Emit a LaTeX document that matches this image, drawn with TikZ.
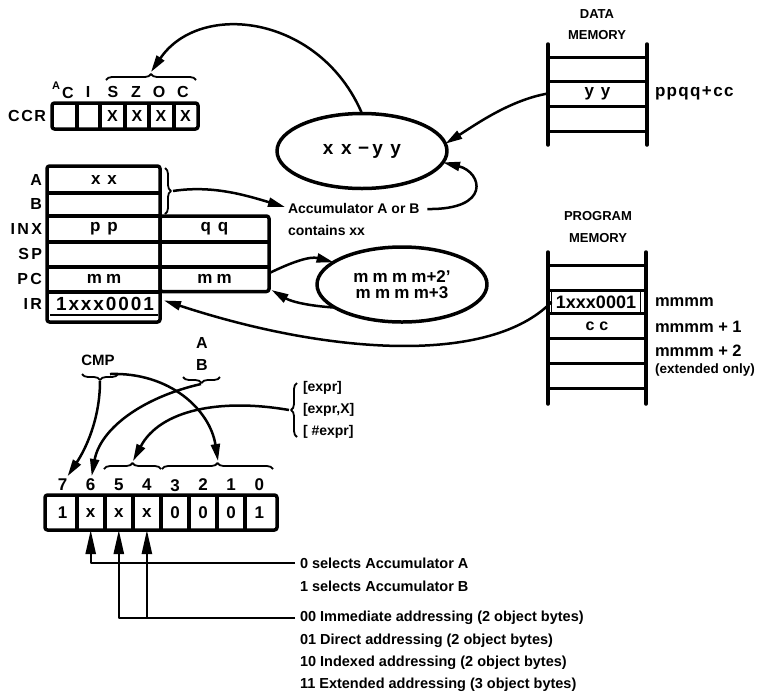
\documentclass[tikz,border=0pt]{standalone}
\usepackage{fontspec}
\setmainfont{Liberation Sans}
\usetikzlibrary{arrows.meta,decorations.pathreplacing,shapes.geometric,calc}
\newcommand{\fs}[1]{\fontsize{#1}{#1}\selectfont}
\newcommand{\spc}[2]{{\addfontfeature{LetterSpace=#1}#2}}
\begin{document}
\begin{tikzpicture}[x=1pt,y=-1pt,line join=round,
 every node/.style={inner sep=0pt,outer sep=0pt},
 lab/.style={font=\fs{16}\bfseries},
 txt/.style={font=\fs{14}\bfseries},
 smalltxt/.style={font=\fs{13}\bfseries},
 seltxt/.style={font=\fs{14.5}\bfseries},
 thickframe/.style={line width=3.5pt,rounded corners=2.5pt},
 sepline/.style={line width=4pt},
 arr/.style={line width=2.5pt,-{Triangle[length=17pt,width=9pt]}},
 uparr/.style={line width=2.4pt,-{Triangle[length=24pt,width=10pt]}},
 oval/.style={ellipse,draw,line width=3.5pt,minimum width=170pt,minimum height=75pt},
 brc/.style={decorate,decoration={brace,amplitude=6pt},line width=1.8pt},
 mem/.style={line width=3.5pt,line cap=round},
 memrow/.style={line width=3pt},
 regcell/.style={minimum width=104pt,minimum height=20pt,font=\fs{17}\bfseries},
 bcell/.style={minimum width=28pt,minimum height=35pt,font=\fs{17}\bfseries},
 dig/.style={font=\fs{17}\bfseries},
]
\fill[white] (0,0) rectangle (759,694);
\useasboundingbox (0,0) rectangle (759,694);

% ---------- CCR ----------
\node[lab,anchor=east] (ccr) at (46,116) {\spc{10}{CCR}};
\draw[thickframe] (52,103) rectangle (198,129);
\foreach \x in {77,100,125,149,173.5} \draw[sepline] (\x,103) -- (\x,129);
\node[lab] (cs) at (112.5,116) {X};
\node[lab] (cz) at (137,116) {X};
\node[lab] (co) at (161,116) {X};
\node[lab] (cc) at (185.5,116) {X};
\node[font=\fs{11}\bfseries] (fa) at (56,86) {A};
\node[lab] (fc) at (68,93) {C};
\node[lab] (fi) at (88,92) {I};
\node[lab] (fs) at (113,92) {S};
\node[lab] (fz) at (136,92) {Z};
\node[lab] (fo) at (159,92) {O};
\node[lab] (fc2) at (183,92) {C};
\draw[brc] (106,80) -- (196,80);
\coordinate (ccrtip) at (151,72);

% ---------- ALU ellipse ----------
\node[oval,font=\fs{19}\bfseries] (e1) at (362,151) {\spc{40}{xx}\,\,−\,\spc{40}{yy}};

% ---------- Data memory ----------
\node[smalltxt] (dlab1) at (597,14) {DATA};
\node[smalltxt] (dlab2) at (597,35) {MEMORY};
\draw[mem] (548,44) -- (548,145);
\draw[mem] (647,44) -- (647,145);
\foreach \y in {57,81,106,131} \draw[memrow] (548,\y) -- (647,\y);
\node[minimum width=99pt,minimum height=25pt,font=\fs{17}\bfseries] (dyy) at (597.5,93.5) {\spc{40}{yy}};
\node[anchor=west,font=\fs{17}\bfseries] (pq) at (655,93) {\spc{8}{ppqq+cc}};

% ---------- Accumulator text ----------
\node[txt,anchor=west] (accA) at (288,208) {Accumulator A or B};
\node[txt,anchor=west] (accB) at (288,230) {contains xx};

% ---------- Registers ----------
\node[lab,anchor=east] (lA) at (42,180) {A};
\node[lab,anchor=east] (lB) at (42,204) {B};
\node[lab,anchor=east] (lI) at (42,228.5) {\spc{15}{INX}};
\node[lab,anchor=east] (lS) at (42,254) {\spc{15}{SP}};
\node[lab,anchor=east] (lP) at (42,279) {\spc{15}{PC}};
\node[lab,anchor=east] (lR) at (42,303.5) {\spc{15}{IR}};
\draw[thickframe] (47,166) rectangle (160,322);
\draw[thickframe] (160,216) rectangle (269,291.5);
\draw[sepline] (47,192.5) -- (160,192.5);
\draw[sepline] (47,216) -- (160,216);
\draw[sepline] (47,241.5) -- (269,241.5);
\draw[sepline] (47,266.5) -- (269,266.5);
\draw[sepline] (47,291.5) -- (160,291.5);
\draw[line width=2pt] (50,314.5) -- (158,314.5);
\node[regcell] (ra) at (104,180) {\spc{40}{xx}};
\node[regcell] (rb) at (104,204) {};
\node[regcell] (rinx) at (104,228.5) {\spc{40}{pp}};
\node[regcell] (rinx2) at (214.5,228.5) {\spc{40}{qq}};
\node[regcell] (rsp) at (104,254) {};
\node[regcell] (rsp2) at (214.5,254) {};
\node[regcell] (rpc) at (104,279) {\spc{25}{mm}};
\node[regcell,minimum width=108pt] (pcr) at (214.5,279) {\spc{25}{mm}};
\node[regcell,font=\fs{19}\bfseries] (irc) at (105,303.5) {\spc{10}{1xxx0001}};
\draw[brc] (165,168) -- (165,214);
\coordinate (abtip) at (173,191);

% ---------- PC ellipse ----------
\node[oval,font=\fontsize{17}{16}\selectfont\bfseries,align=center] (e2) at (402,284.5) {\spc{25}{mmmm}+2’\\\spc{25}{mmmm}+3};

% ---------- Program memory ----------
\node[smalltxt] (plab1) at (598,216) {PROGRAM};
\node[smalltxt] (plab2) at (598,238) {MEMORY};
\draw[mem] (548,252) -- (548,404);
\draw[mem] (646,252) -- (646,404);
\foreach \y in {265.5,290,313.5,338,363,388} \draw[memrow] (548,\y) -- (646,\y);
\node[draw,line width=1.5pt,minimum width=89pt,minimum height=22pt,font=\fs{18}\bfseries] (pm1) at (596,302) {1xxx0001};
\node[font=\fs{16}\bfseries] (pm2) at (597,326) {\spc{30}{cc}};
\node[anchor=west,font=\fs{16.5}\bfseries] (ml1) at (655,302) {mmmm};
\node[anchor=west,font=\fs{16.5}\bfseries] (ml2) at (655,327) {mmmm + 1};
\node[anchor=west,font=\fs{16.5}\bfseries] (ml3) at (655,351) {mmmm + 2};
\node[anchor=west,font=\fs{13.5}\bfseries] (ml4) at (655,370) {(extended only)};

% ---------- Upper connectors ----------
\draw[arr] (e1.north) .. controls (320,15) and (200,0) .. (ccrtip);
\draw[arr] (dyy.west) .. controls (510,100) and (475,125) .. (e1.5);
\draw[arr] ($(accA.east)+(8,1)$) .. controls (492,210) and (482,172) .. (e1.-8);
\draw[arr] (abtip) .. controls (212,185) and (245,195) .. ($(accA.west)+(-3,-1)$);
\draw[arr] ($(pcr.east)+(1,-6)$) .. controls (292,262) and (310,256) .. (e2.162);
\draw[arr] (e2.199) .. controls (310,306) and (292,302) .. ($(pcr.east)+(3,11)$);
\draw[arr] (pm1.west) .. controls (490,365) and (330,355) .. ($(irc.east)+(7,-3)$);

% ---------- Opcode byte ----------
\node[lab] (tA) at (202,343) {A};
\node[lab] (tB) at (202,365) {B};
\node[txt,font=\fs{15}\bfseries] (cmp) at (98,360) {CMP};
\draw[brc] (118,374) -- (82,374);
\coordinate (cmptip) at (100,381);
\draw[brc] (220,377) -- (183,377);
\coordinate (btip) at (201,384);
\draw[brc] (297,437) -- (297,383);
\coordinate (exptip) at (289,410);
\node[smalltxt,font=\fs{14}\bfseries,anchor=west] (x1) at (303,388) {[expr]};
\node[smalltxt,font=\fs{14}\bfseries,anchor=west] (x2) at (303,410) {[expr,X]};
\node[smalltxt,font=\fs{14}\bfseries,anchor=west] (x3) at (303,432) {[ \#expr]};

\draw[thickframe] (45,495) rectangle (277,530);
\foreach \x in {76.6,104.7,132.8,161,189,217,245.3} \draw[sepline] (\x,495) -- (\x,530);
\node[bcell] (b7) at (62.6,512.5) {1};
\node[bcell] (b6) at (90.7,512.5) {x};
\node[bcell] (b5) at (118.8,512.5) {x};
\node[bcell] (b4) at (146.9,512.5) {x};
\node[bcell] (b3) at (175,512.5) {0};
\node[bcell] (b2) at (203,512.5) {0};
\node[bcell] (b1) at (231,512.5) {0};
\node[bcell] (b0) at (259.4,512.5) {1};
\node[dig] (d7) at (62.6,485) {7};
\node[dig] (d6) at (90.7,485) {6};
\node[dig] (d5) at (118.8,485) {5};
\node[dig] (d4) at (146.9,485) {4};
\node[dig] (d3) at (175,486) {3};
\node[dig] (d2) at (203,485) {2};
\node[dig] (d1) at (231,485) {1};
\node[dig] (d0) at (259.4,485) {0};
\draw[brc] (104,469) -- (161,469);
\coordinate (t54) at (133,461);
\draw[brc] (162,469) -- (273,469);
\coordinate (t30) at (218,461);

\draw[arr] (cmptip) .. controls (100,420) and (85,450) .. ($(d7.north)+(5,-3)$);
\draw[arr] (btip) .. controls (140,398) and (100,430) .. ($(d6.north)+(1,-3)$);
\draw[arr] ($(cmptip)+(10,-7)$) .. controls (170,372) and (210,410) .. (t30);
\draw[arr] (exptip) .. controls (220,398) and (160,410) .. (t54);

% ---------- Select lines ----------
\node[seltxt,anchor=west] (s1) at (300,563) {0 selects Accumulator A};
\node[seltxt,anchor=west] (s2) at (300,586) {1 selects Accumulator B};
\node[seltxt,anchor=west] (s3) at (300,618) {00 Immediate addressing (2 object bytes)};
\node[seltxt,anchor=west] (s4) at (300,641) {01 Direct addressing (2 object bytes)};
\node[seltxt,anchor=west] (s5) at (300,663) {10 Indexed addressing (2 object bytes)};
\node[seltxt,anchor=west] (s6) at (300,685) {11 Extended addressing (3 object bytes)};
\coordinate (j1) at ($(s1.west)+(-5,0)$);
\coordinate (j2) at ($(s3.west)+(-5,0)$);
\draw[uparr] (j1) -| (b6.south);
\draw[uparr] (j2) -| (b5.south);
\draw[uparr] (j2 -| b4.south) -- (b4.south);
\end{tikzpicture}
\end{document}
